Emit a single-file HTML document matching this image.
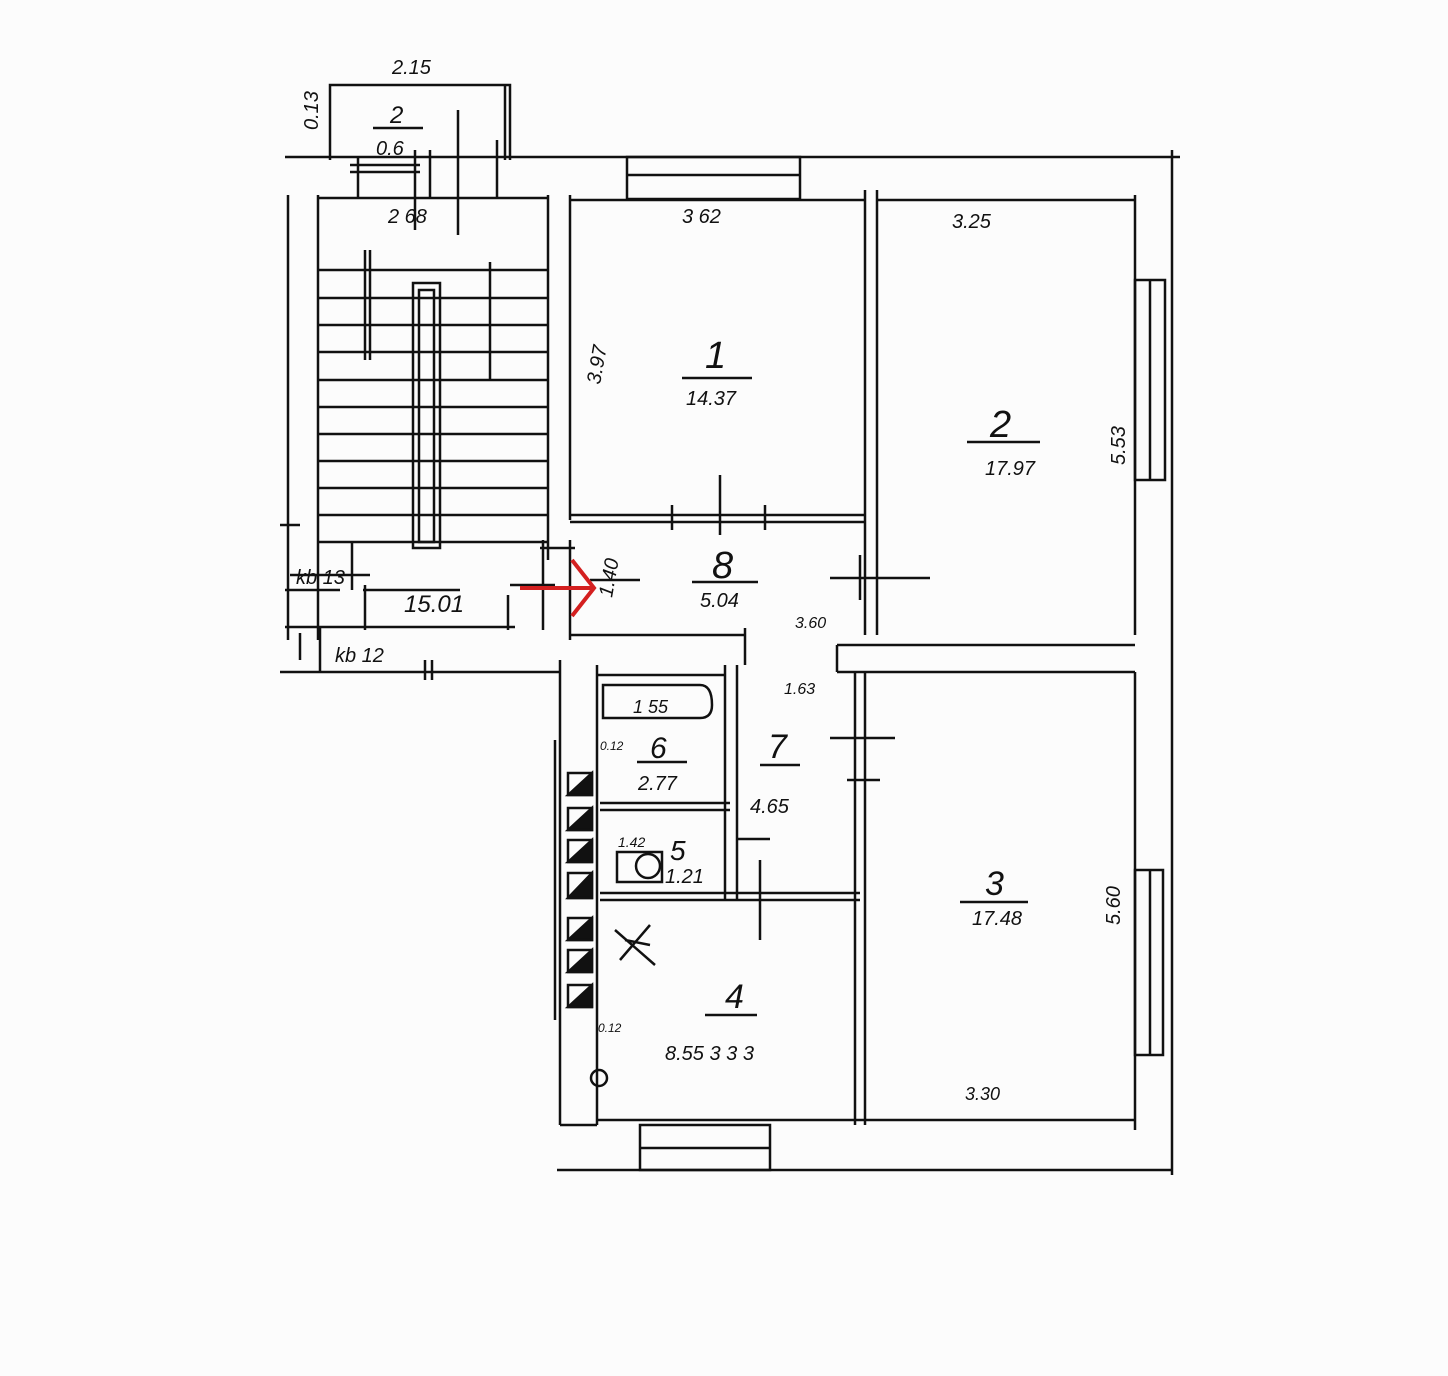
<!DOCTYPE html>
<html><head><meta charset="utf-8"><style>
html,body{margin:0;padding:0;background:#fcfcfc;}
svg{display:block;}
text{font-family:"Liberation Sans",sans-serif;font-style:italic;fill:#111;}
</style></head><body>
<svg width="1448" height="1376" viewBox="0 0 1448 1376" xmlns="http://www.w3.org/2000/svg">
<rect width="1448" height="1376" fill="#fcfcfc"/>
<g stroke="#111" stroke-width="2.5" fill="none">
<polyline points="330,160 330,85 510,85 510,160"/>
<line x1="505" y1="85" x2="505" y2="160"/>
<line x1="350" y1="165" x2="420" y2="165"/><line x1="350" y1="172" x2="420" y2="172"/>
<line x1="358" y1="158" x2="358" y2="198"/><line x1="415" y1="150" x2="415" y2="230"/>
<line x1="430" y1="150" x2="430" y2="198"/><line x1="458" y1="110" x2="458" y2="235"/>
<line x1="497" y1="140" x2="497" y2="198"/>
<line x1="285" y1="157" x2="1180" y2="157"/>
<line x1="1172" y1="150" x2="1172" y2="1175"/>
<line x1="557" y1="1170" x2="1172" y2="1170"/>
<rect x="627" y="157" width="173" height="42"/><line x1="627" y1="175" x2="800" y2="175"/>
<line x1="288" y1="195" x2="288" y2="640"/><line x1="318" y1="195" x2="318" y2="640"/>
<line x1="318" y1="198" x2="548" y2="198"/>
<line x1="548" y1="195" x2="548" y2="560"/>
<line x1="280" y1="525" x2="300" y2="525"/>
<rect x="413" y="283" width="27" height="265"/><rect x="419" y="290" width="15" height="252"/>
<line x1="365" y1="250" x2="365" y2="360"/><line x1="370" y1="250" x2="370" y2="360"/>
<line x1="490" y1="262" x2="490" y2="380"/>
<line x1="318" y1="270" x2="548" y2="270"/><line x1="318" y1="298" x2="548" y2="298"/>
<line x1="318" y1="325" x2="548" y2="325"/><line x1="318" y1="352" x2="548" y2="352"/>
<line x1="318" y1="380" x2="548" y2="380"/><line x1="318" y1="407" x2="548" y2="407"/>
<line x1="318" y1="434" x2="548" y2="434"/><line x1="318" y1="461" x2="548" y2="461"/>
<line x1="318" y1="488" x2="548" y2="488"/><line x1="318" y1="515" x2="548" y2="515"/>
<line x1="318" y1="542" x2="548" y2="542"/>
<line x1="352" y1="542" x2="352" y2="590"/><line x1="363" y1="590" x2="460" y2="590"/>
<line x1="285" y1="590" x2="340" y2="590"/><line x1="365" y1="585" x2="365" y2="630"/>
<line x1="285" y1="627" x2="515" y2="627"/><line x1="300" y1="633" x2="300" y2="660"/>
<line x1="280" y1="672" x2="560" y2="672"/><line x1="320" y1="628" x2="320" y2="672"/>
<line x1="425" y1="660" x2="425" y2="680"/><line x1="432" y1="660" x2="432" y2="680"/>
<line x1="510" y1="585" x2="555" y2="585"/><line x1="508" y1="595" x2="508" y2="630"/>
<line x1="570" y1="195" x2="570" y2="520"/><line x1="570" y1="200" x2="865" y2="200"/>
<line x1="570" y1="515" x2="865" y2="515"/><line x1="570" y1="522" x2="865" y2="522"/>
<line x1="720" y1="475" x2="720" y2="535"/><line x1="672" y1="505" x2="672" y2="530"/><line x1="765" y1="505" x2="765" y2="530"/>
<line x1="865" y1="190" x2="865" y2="635"/><line x1="877" y1="190" x2="877" y2="635"/>
<line x1="877" y1="200" x2="1135" y2="200"/><line x1="1135" y1="195" x2="1135" y2="635"/>
<rect x="1135" y="280" width="30" height="200"/><line x1="1150" y1="280" x2="1150" y2="480"/>
<line x1="830" y1="578" x2="930" y2="578"/><line x1="860" y1="555" x2="860" y2="600"/>
<line x1="570" y1="540" x2="570" y2="640"/><line x1="540" y1="548" x2="575" y2="548"/>
<line x1="543" y1="540" x2="543" y2="630"/><line x1="590" y1="580" x2="640" y2="580"/>
<line x1="570" y1="635" x2="745" y2="635"/><line x1="745" y1="628" x2="745" y2="665"/>
<line x1="837" y1="645" x2="1135" y2="645"/><line x1="837" y1="645" x2="837" y2="672"/>
<line x1="837" y1="672" x2="1135" y2="672"/>
<line x1="560" y1="660" x2="560" y2="1125"/><line x1="597" y1="665" x2="597" y2="1125"/>
<line x1="555" y1="740" x2="555" y2="1020"/>
<line x1="597" y1="675" x2="725" y2="675"/><line x1="725" y1="665" x2="725" y2="900"/><line x1="737" y1="665" x2="737" y2="900"/>
<path d="M603 685 H700 Q712 685 712 705 Q712 718 700 718 H603 Z"/>
<line x1="600" y1="803" x2="730" y2="803"/><line x1="600" y1="810" x2="730" y2="810"/>
<line x1="600" y1="893" x2="860" y2="893"/><line x1="600" y1="900" x2="860" y2="900"/>
<rect x="617" y="852" width="45" height="30"/><circle cx="648" cy="866" r="12"/>
<line x1="760" y1="860" x2="760" y2="940"/><line x1="737" y1="839" x2="770" y2="839"/>
<line x1="855" y1="672" x2="855" y2="1125"/><line x1="865" y1="672" x2="865" y2="1125"/>
<line x1="830" y1="738" x2="895" y2="738"/><line x1="847" y1="780" x2="880" y2="780"/>
<line x1="1135" y1="672" x2="1135" y2="1130"/>
<rect x="1135" y="870" width="28" height="185"/><line x1="1150" y1="870" x2="1150" y2="1055"/>
<line x1="597" y1="1120" x2="1135" y2="1120"/>
<rect x="640" y="1125" width="130" height="45"/><line x1="640" y1="1148" x2="770" y2="1148"/>
<line x1="560" y1="1125" x2="597" y2="1125"/>
<line x1="373" y1="128" x2="423" y2="128"/><line x1="682" y1="378" x2="752" y2="378"/>
<line x1="967" y1="442" x2="1040" y2="442"/><line x1="692" y1="582" x2="758" y2="582"/>
<line x1="760" y1="765" x2="800" y2="765"/><line x1="637" y1="762" x2="687" y2="762"/>
<line x1="960" y1="902" x2="1028" y2="902"/><line x1="705" y1="1015" x2="757" y2="1015"/>
<line x1="290" y1="575" x2="370" y2="575"/>
</g>
<g fill="#111" stroke="#111" stroke-width="2.5">
<polygon points="568,795 592,773 592,795"/><polygon points="568,830 592,808 592,830"/>
<polygon points="568,862 592,840 592,862"/><polygon points="568,898 592,873 592,898"/>
<polygon points="568,940 592,918 592,940"/><polygon points="568,972 592,950 592,972"/>
<polygon points="568,1007 592,985 592,1007"/>
</g>
<g stroke="#111" stroke-width="2.5" fill="none">
<rect x="568" y="773" width="24" height="22"/><rect x="568" y="808" width="24" height="22"/>
<rect x="568" y="840" width="24" height="22"/><rect x="568" y="873" width="24" height="25"/>
<rect x="568" y="918" width="24" height="22"/><rect x="568" y="950" width="24" height="22"/>
<rect x="568" y="985" width="24" height="22"/>
<circle cx="599" cy="1078" r="8"/><path d="M615 930 L655 965 M620 960 L650 925 M625 940 L650 945"/>
</g>
<g stroke="#d42020" stroke-width="4" fill="none">
<line x1="520" y1="588" x2="592" y2="588"/><polyline points="572,560 594,588 572,616"/>
</g>
<g font-size="20">
<text x="392" y="74">2.15</text>
<text x="318" y="130" transform="rotate(-90 318 130)">0.13</text>
<text x="390" y="123" font-size="24">2</text><text x="376" y="155">0.6</text>
<text x="388" y="223">2 68</text><text x="682" y="223">3 62</text><text x="952" y="228">3.25</text>
<text x="705" y="368" font-size="38">1</text><text x="686" y="405">14.37</text>
<text x="600" y="385" transform="rotate(-80 600 385)">3.97</text>
<text x="990" y="437" font-size="38">2</text><text x="985" y="475">17.97</text>
<text x="1125" y="465" transform="rotate(-90 1125 465)">5.53</text>
<text x="296" y="584">kb 13</text><text x="404" y="612" font-size="24">15.01</text>
<text x="335" y="662" fill="#777">kb 12</text>
<text x="612" y="598" transform="rotate(-80 612 598)">1.40</text>
<text x="712" y="578" font-size="38">8</text><text x="700" y="607">5.04</text>
<text x="795" y="628" font-size="16">3.60</text><text x="784" y="694" font-size="16">1.63</text>
<text x="633" y="713" font-size="18">1 55</text>
<text x="650" y="758" font-size="30">6</text><text x="638" y="790">2.77</text>
<text x="768" y="758" font-size="34">7</text><text x="750" y="813">4.65</text>
<text x="618" y="847" font-size="14">1.42</text>
<text x="670" y="860" font-size="28">5</text><text x="665" y="883">1.21</text>
<text x="985" y="895" font-size="34">3</text><text x="972" y="925">17.48</text>
<text x="1120" y="925" transform="rotate(-90 1120 925)">5.60</text>
<text x="725" y="1008" font-size="34">4</text><text x="665" y="1060">8.55 3 3 3</text>
<text x="965" y="1100" font-size="18">3.30</text>
<text x="600" y="750" font-size="12">0.12</text><text x="598" y="1032" font-size="12">0.12</text>
</g>
</svg>
</body></html>
